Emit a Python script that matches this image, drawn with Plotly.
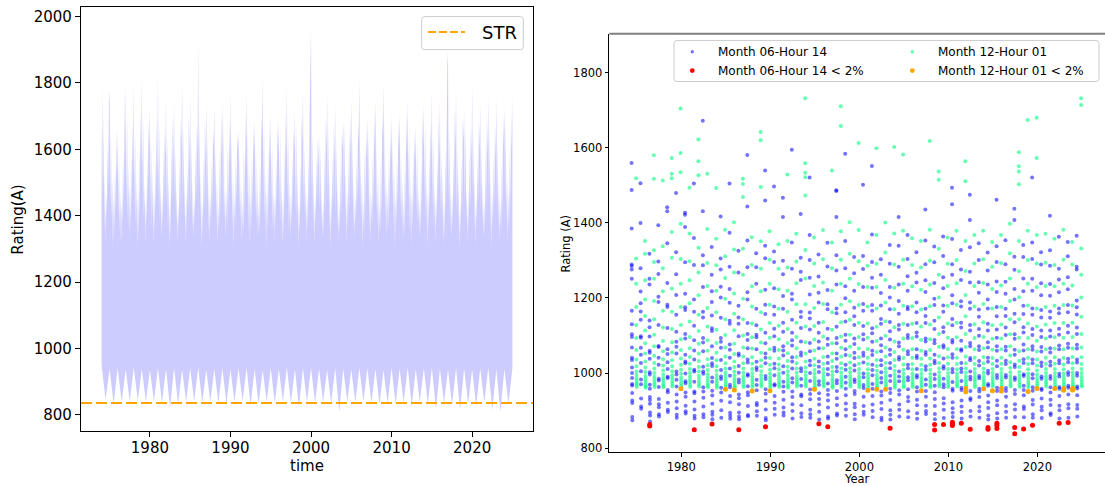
import plotly.graph_objects as go

W, H = 1105, 486

# ---------------- left panel: hourly rating (envelope per year) ----------------
ts_years = list(range(1974, 2025))
# upper envelope: monthly maxima (Jan..Dec) per year
ts_upper = [
    [1500, 1789, 1440, 1700, 1360, 1540, 1320, 1470, 1390, 1620, 1480, 1780],
    [1745, 1420, 1680, 1390, 1520, 1300, 1460, 1350, 1560, 1410, 1660, 1500],
    [1661, 1400, 1590, 1350, 1480, 1310, 1440, 1380, 1600, 1430, 1700, 1792],
    [1640, 1450, 1720, 1380, 1560, 1330, 1490, 1360, 1580, 1420, 1690, 1530],
    [1800, 1430, 1650, 1370, 1520, 1300, 1470, 1340, 1610, 1400, 1720, 1560],
    [1822, 1460, 1700, 1390, 1500, 1320, 1450, 1380, 1590, 1440, 1680, 1600],
    [1734, 1410, 1620, 1360, 1540, 1310, 1480, 1350, 1570, 1420, 1700, 1520],
    [1830, 1440, 1680, 1380, 1510, 1330, 1460, 1370, 1600, 1410, 1650, 1580],
    [1752, 1420, 1640, 1350, 1530, 1300, 1470, 1340, 1620, 1430, 1710, 1550],
    [1748, 1450, 1600, 1370, 1490, 1320, 1440, 1360, 1580, 1400, 1690, 1610],
    [1802, 1430, 1670, 1390, 1520, 1310, 1480, 1350, 1560, 1420, 1720, 1540],
    [1770, 1410, 1630, 1360, 1500, 1330, 1460, 1380, 1610, 1440, 1680, 1590],
    [1928, 1460, 1690, 1380, 1540, 1300, 1450, 1340, 1590, 1410, 1700, 1560],
    [1740, 1420, 1650, 1350, 1510, 1320, 1470, 1370, 1570, 1430, 1660, 1600],
    [1732, 1440, 1610, 1370, 1530, 1310, 1440, 1350, 1600, 1400, 1710, 1570],
    [1750, 1410, 1680, 1390, 1490, 1330, 1480, 1360, 1620, 1420, 1690, 1550],
    [1782, 1450, 1640, 1360, 1520, 1300, 1460, 1380, 1580, 1440, 1650, 1600],
    [1655, 1420, 1600, 1380, 1500, 1320, 1450, 1340, 1610, 1410, 1720, 1540],
    [1782, 1440, 1670, 1350, 1540, 1310, 1470, 1370, 1590, 1430, 1680, 1580],
    [1690, 1410, 1630, 1370, 1510, 1330, 1440, 1350, 1570, 1400, 1700, 1620],
    [1822, 1460, 1690, 1390, 1530, 1300, 1480, 1360, 1600, 1420, 1670, 1560],
    [1710, 1430, 1620, 1360, 1490, 1320, 1460, 1380, 1580, 1440, 1690, 1590],
    [1680, 1420, 1660, 1380, 1520, 1310, 1450, 1340, 1610, 1410, 1710, 1570],
    [1795, 1450, 1640, 1350, 1500, 1330, 1470, 1370, 1590, 1430, 1660, 1600],
    [1720, 1410, 1680, 1370, 1540, 1300, 1440, 1350, 1570, 1400, 1700, 1620],
    [1782, 1440, 1610, 1390, 1510, 1320, 1480, 1360, 1600, 1420, 1720, 1800],
    [1968, 1460, 1650, 1360, 1530, 1310, 1460, 1380, 1580, 1440, 1640, 1550],
    [1650, 1420, 1620, 1380, 1490, 1330, 1450, 1340, 1610, 1410, 1700, 1590],
    [1770, 1440, 1670, 1350, 1520, 1300, 1470, 1370, 1590, 1430, 1680, 1560],
    [1738, 1410, 1630, 1370, 1500, 1320, 1440, 1350, 1570, 1400, 1660, 1600],
    [1690, 1450, 1690, 1390, 1540, 1310, 1480, 1360, 1600, 1420, 1710, 1580],
    [1757, 1430, 1640, 1360, 1510, 1330, 1460, 1380, 1580, 1440, 1690, 1620],
    [1818, 1420, 1600, 1380, 1530, 1300, 1450, 1340, 1610, 1410, 1680, 1570],
    [1700, 1450, 1660, 1350, 1490, 1320, 1470, 1370, 1590, 1430, 1720, 1600],
    [1755, 1410, 1620, 1370, 1520, 1310, 1440, 1350, 1570, 1400, 1700, 1640],
    [1802, 1440, 1680, 1390, 1500, 1330, 1480, 1360, 1600, 1420, 1660, 1560],
    [1711, 1460, 1640, 1360, 1540, 1300, 1460, 1380, 1580, 1440, 1690, 1600],
    [1710, 1420, 1610, 1380, 1510, 1320, 1450, 1340, 1610, 1410, 1720, 1580],
    [1752, 1440, 1670, 1350, 1530, 1310, 1470, 1370, 1590, 1430, 1650, 1560],
    [1677, 1410, 1630, 1370, 1490, 1330, 1440, 1350, 1570, 1400, 1700, 1610],
    [1740, 1450, 1690, 1390, 1520, 1300, 1480, 1360, 1600, 1420, 1680, 1590],
    [1778, 1430, 1640, 1360, 1500, 1320, 1460, 1380, 1580, 1440, 1710, 1570],
    [1750, 1420, 1600, 1380, 1540, 1310, 1450, 1340, 1610, 1410, 1690, 1850],
    [1898, 1450, 1660, 1350, 1510, 1330, 1470, 1370, 1590, 1430, 1720, 1600],
    [1780, 1410, 1620, 1370, 1530, 1300, 1440, 1350, 1570, 1400, 1700, 1620],
    [1720, 1440, 1680, 1390, 1490, 1320, 1480, 1360, 1600, 1420, 1670, 1560],
    [1800, 1460, 1640, 1360, 1520, 1310, 1460, 1380, 1580, 1440, 1690, 1600],
    [1740, 1420, 1610, 1380, 1500, 1330, 1450, 1340, 1610, 1410, 1710, 1580],
    [1762, 1440, 1670, 1350, 1540, 1300, 1470, 1370, 1590, 1430, 1680, 1570],
    [1760, 1410, 1630, 1370, 1510, 1320, 1440, 1350, 1570, 1400, 1700, 1610],
    [1730, 1450, 1690, 1390, 1530, 1310, 1480, 1360, 1600, 1420, 1720, 1590],
]
ts_end_time = 2025.0
ts_end_upper = 1775
ts_end_lower = 940
# lower envelope: winter (January) and summer (July) minima per year
ts_lower_winter = [950, 938, 940, 936, 942, 938, 935, 940, 937, 941, 936, 939, 942, 935, 938,
                   940, 936, 939, 941, 937, 935, 940, 938, 942, 936, 939, 941, 937, 935, 940,
                   938, 936, 941, 939, 937, 935, 940, 938, 942, 936, 939, 941, 937, 935, 940,
                   938, 936, 939, 941, 937, 938]
ts_lower_summer = [845, 832, 838, 840, 842, 838, 840, 836, 822, 832, 838, 840, 836, 838, 835,
                   833, 838, 840, 828, 832, 838, 835, 840, 836, 823, 838, 836, 838, 835, 809,
                   838, 836, 840, 835, 830, 834, 832, 836, 826, 838, 832, 817, 836, 830, 815,
                   834, 825, 836, 814, 809, 832]
str_value = 835

# ---------------- right panel: June 14h and December 01h ratings ----------------
sc_years = list(range(1974, 2025))
jun_h14 = [
    [1560, 1488, 1385, 1289, 1285, 1276, 1251, 1166, 1130, 1103, 1096, 1068, 1041, 1035, 1015, 1000, 987, 971, 967, 947, 927, 920, 883, 874],
    [1506, 1400, 1279, 1217, 1186, 1164, 1142, 1098, 1094, 1067, 1049, 1027, 1005, 983, 970, 932, 911, 905],
    [1318, 1251, 1236, 1140, 1122, 1097, 1059, 1054, 1038, 1002, 996, 969, 958, 936, 928, 918, 895, 887, 871],
    [1394, 1297, 1264, 1203, 1189, 1128, 1072, 1069, 1041, 1022, 985, 980, 963, 931, 917, 909, 890, 884],
    [1442, 1431, 1346, 1240, 1182, 1176, 1120, 1063, 1051, 1029, 1011, 990, 987, 955, 949, 921, 902, 896],
    [1480, 1322, 1263, 1208, 1155, 1110, 1083, 1070, 1052, 1004, 996, 982, 964, 943, 924, 906, 889, 881],
    [1427, 1422, 1389, 1295, 1211, 1175, 1168, 1104, 1092, 1049, 1031, 1026, 999, 978, 973, 948, 937, 913, 898, 892],
    [1505, 1360, 1288, 1196, 1163, 1126, 1087, 1060, 1036, 1009, 1004, 977, 951, 946, 924, 903, 886, 879],
    [1672, 1431, 1314, 1287, 1229, 1163, 1148, 1093, 1081, 1058, 1017, 1004, 998, 962, 951, 934, 911, 890, 882],
    [1336, 1262, 1218, 1189, 1153, 1119, 1112, 1071, 1040, 1026, 1019, 988, 977, 953, 940, 918, 897, 889, 877],
    [1417, 1305, 1276, 1230, 1201, 1147, 1093, 1083, 1067, 1035, 1008, 991, 984, 961, 948, 926, 901, 881],
    [1505, 1374, 1283, 1224, 1187, 1139, 1131, 1076, 1062, 1041, 1012, 993, 969, 962, 939, 922, 894, 886, 878],
    [1326, 1268, 1179, 1148, 1131, 1098, 1052, 1047, 1019, 1001, 983, 975, 943, 933, 917, 895, 884, 877],
    [1581, 1444, 1353, 1282, 1215, 1196, 1133, 1104, 1088, 1066, 1036, 1028, 997, 993, 965, 949, 941, 912, 888, 885],
    [1319, 1282, 1238, 1171, 1127, 1102, 1095, 1063, 1030, 1015, 1008, 982, 968, 954, 920, 914, 898, 886],
    [1540, 1460, 1339, 1306, 1222, 1182, 1157, 1107, 1079, 1052, 1041, 1026, 992, 984, 957, 945, 926, 903, 880, 874],
    [1497, 1324, 1296, 1226, 1177, 1155, 1118, 1098, 1067, 1059, 1025, 1013, 994, 970, 967, 939, 921, 905, 889],
    [1467, 1416, 1299, 1263, 1205, 1171, 1134, 1110, 1071, 1060, 1047, 1018, 1001, 977, 964, 950, 929, 908, 895, 887],
    [1595, 1348, 1278, 1211, 1196, 1142, 1107, 1087, 1073, 1042, 1031, 1012, 986, 975, 951, 936, 917, 899, 879],
    [1424, 1307, 1270, 1248, 1163, 1149, 1120, 1084, 1055, 1047, 1013, 1005, 984, 966, 943, 938, 914, 893, 883],
    [1521, 1368, 1301, 1254, 1209, 1161, 1145, 1116, 1080, 1058, 1033, 1021, 1000, 979, 956, 944, 930, 902, 890, 881],
    [1316, 1257, 1214, 1188, 1134, 1107, 1084, 1066, 1031, 1017, 1003, 978, 969, 946, 931, 916, 897, 876],
    [1347, 1284, 1221, 1183, 1170, 1118, 1091, 1075, 1044, 1027, 1011, 996, 972, 955, 942, 927, 908, 884, 879],
    [1487, 1485, 1416, 1314, 1273, 1236, 1172, 1159, 1123, 1093, 1079, 1052, 1038, 1016, 1005, 981, 973, 952, 933, 915, 892, 887],
    [1584, 1352, 1279, 1231, 1199, 1162, 1137, 1102, 1086, 1063, 1048, 1022, 1009, 990, 974, 958, 941, 919, 903, 886],
    [1309, 1266, 1219, 1174, 1151, 1128, 1092, 1077, 1054, 1040, 1021, 1007, 983, 976, 952, 944, 918, 909, 890, 877],
    [1502, 1312, 1277, 1229, 1184, 1166, 1125, 1103, 1089, 1054, 1046, 1028, 999, 989, 968, 960, 937, 912, 897, 889],
    [1552, 1369, 1296, 1254, 1227, 1181, 1166, 1119, 1106, 1083, 1059, 1048, 1022, 1008, 994, 971, 958, 939, 916, 899, 882],
    [1303, 1262, 1213, 1180, 1144, 1131, 1092, 1074, 1058, 1034, 1021, 1002, 987, 975, 951, 940, 921, 904, 881, 874],
    [1341, 1291, 1229, 1201, 1170, 1136, 1111, 1089, 1062, 1049, 1027, 1013, 993, 979, 958, 947, 928, 901, 889, 876],
    [1416, 1339, 1283, 1236, 1192, 1158, 1128, 1116, 1081, 1071, 1043, 1036, 1004, 991, 978, 954, 943, 916, 902, 884],
    [1368, 1304, 1258, 1219, 1176, 1170, 1128, 1101, 1093, 1058, 1050, 1022, 1013, 989, 981, 957, 936, 925, 898, 882],
    [1322, 1267, 1241, 1188, 1162, 1133, 1108, 1097, 1063, 1046, 1040, 1011, 994, 988, 962, 951, 929, 914, 893, 878],
    [1436, 1353, 1290, 1247, 1216, 1171, 1152, 1133, 1092, 1084, 1056, 1049, 1018, 1009, 983, 969, 952, 937, 913, 899, 891],
    [1337, 1295, 1240, 1198, 1181, 1139, 1117, 1088, 1079, 1049, 1033, 1026, 996, 984, 966, 949, 931, 912, 891, 877],
    [1364, 1312, 1255, 1226, 1180, 1163, 1122, 1109, 1074, 1068, 1039, 1018, 1012, 985, 970, 962, 933, 919, 902, 880],
    [1494, 1450, 1357, 1290, 1262, 1207, 1186, 1144, 1127, 1088, 1081, 1050, 1041, 1011, 1002, 976, 958, 953, 922, 906, 894, 883],
    [1328, 1276, 1248, 1191, 1177, 1134, 1121, 1086, 1063, 1059, 1027, 1012, 1003, 979, 961, 955, 927, 911, 896, 879],
    [1475, 1408, 1335, 1270, 1241, 1188, 1171, 1128, 1113, 1080, 1071, 1040, 1034, 1004, 990, 983, 952, 933, 928, 899, 884],
    [1346, 1301, 1242, 1214, 1169, 1150, 1117, 1099, 1071, 1061, 1032, 1020, 992, 986, 958, 951, 936, 910, 898, 881],
    [1321, 1273, 1236, 1196, 1172, 1131, 1113, 1082, 1068, 1041, 1030, 1006, 999, 971, 966, 940, 922, 907, 887, 876],
    [1462, 1338, 1296, 1244, 1216, 1176, 1151, 1116, 1094, 1071, 1059, 1033, 1018, 995, 987, 961, 952, 927, 914, 893, 879],
    [1354, 1290, 1243, 1211, 1171, 1152, 1121, 1101, 1070, 1060, 1033, 1024, 995, 988, 960, 952, 937, 912, 897, 881],
    [1438, 1408, 1310, 1275, 1224, 1196, 1158, 1135, 1103, 1091, 1062, 1049, 1023, 1016, 988, 982, 955, 944, 917, 903, 883],
    [1341, 1309, 1252, 1218, 1179, 1157, 1122, 1108, 1076, 1060, 1037, 1027, 997, 992, 966, 955, 941, 911, 904, 882],
    [1521, 1348, 1304, 1251, 1219, 1172, 1155, 1117, 1101, 1071, 1062, 1036, 1026, 997, 986, 962, 953, 928, 916, 890, 881],
    [1322, 1289, 1239, 1207, 1168, 1148, 1113, 1096, 1069, 1057, 1028, 1019, 991, 985, 958, 955, 932, 910, 901, 880],
    [1419, 1327, 1286, 1237, 1206, 1164, 1147, 1113, 1097, 1066, 1055, 1030, 1020, 992, 985, 962, 948, 929, 915, 893, 888],
    [1363, 1278, 1249, 1215, 1172, 1159, 1118, 1102, 1073, 1063, 1034, 1026, 998, 991, 963, 958, 939, 913, 901, 879],
    [1349, 1311, 1255, 1223, 1181, 1162, 1126, 1108, 1078, 1067, 1038, 1029, 1002, 995, 966, 961, 943, 917, 906, 881],
    [1366, 1283, 1276, 1193, 1175, 1156, 1121, 1104, 1075, 1065, 1036, 1028, 1000, 993, 964, 959, 941, 915, 905, 884],
]
dec_h01 = [
    [1519, 1305, 1238, 1176, 1128, 1093, 1061, 1036, 1018, 1004, 995, 986, 979, 973, 968, 963],
    [1352, 1318, 1247, 1196, 1152, 1113, 1079, 1052, 1031, 1015, 1003, 992, 984, 977, 970, 965, 961],
    [1580, 1518, 1327, 1296, 1251, 1192, 1143, 1102, 1071, 1046, 1027, 1012, 1000, 990, 982, 975, 969, 963],
    [1513, 1338, 1279, 1218, 1166, 1121, 1085, 1058, 1037, 1020, 1007, 996, 987, 980, 973, 967, 962],
    [1573, 1531, 1519, 1376, 1307, 1225, 1163, 1117, 1082, 1055, 1034, 1018, 1005, 994, 986, 978, 971, 965],
    [1705, 1586, 1535, 1398, 1304, 1238, 1176, 1128, 1090, 1061, 1039, 1022, 1009, 998, 988, 980, 973, 966, 961],
    [1494, 1372, 1298, 1247, 1186, 1137, 1096, 1066, 1043, 1025, 1011, 1000, 991, 983, 976, 969, 963],
    [1622, 1564, 1527, 1334, 1268, 1207, 1155, 1112, 1078, 1052, 1032, 1016, 1004, 993, 985, 977, 970, 964],
    [1531, 1384, 1293, 1232, 1173, 1124, 1087, 1059, 1037, 1021, 1008, 997, 988, 980, 973, 967, 962],
    [1493, 1358, 1287, 1219, 1162, 1115, 1080, 1054, 1034, 1018, 1006, 995, 986, 979, 972, 966, 961],
    [1382, 1311, 1253, 1198, 1143, 1101, 1068, 1044, 1026, 1012, 1001, 992, 984, 977, 970, 964],
    [1402, 1329, 1268, 1212, 1158, 1114, 1078, 1051, 1031, 1016, 1004, 994, 985, 978, 971, 965, 961],
    [1518, 1504, 1469, 1331, 1262, 1198, 1143, 1100, 1068, 1044, 1026, 1012, 1001, 991, 983, 976, 969, 963],
    [1362, 1288, 1231, 1177, 1132, 1095, 1065, 1042, 1025, 1011, 1000, 991, 983, 976, 969, 963],
    [1642, 1620, 1496, 1351, 1278, 1218, 1162, 1116, 1081, 1054, 1034, 1018, 1005, 994, 985, 977, 970, 964],
    [1378, 1302, 1238, 1182, 1133, 1094, 1063, 1040, 1022, 1009, 998, 989, 981, 974, 968, 962],
    [1343, 1278, 1223, 1171, 1126, 1090, 1061, 1039, 1023, 1010, 999, 990, 982, 975, 969, 963],
    [1529, 1352, 1281, 1219, 1163, 1117, 1080, 1053, 1032, 1017, 1005, 995, 986, 978, 971, 965, 961],
    [1371, 1297, 1239, 1183, 1134, 1096, 1066, 1043, 1026, 1012, 1001, 991, 983, 976, 970, 964],
    [1732, 1559, 1534, 1522, 1473, 1328, 1252, 1183, 1124, 1082, 1052, 1031, 1015, 1003, 993, 984, 977, 970, 964],
    [1361, 1292, 1232, 1173, 1125, 1089, 1060, 1038, 1021, 1008, 998, 989, 981, 974, 968, 962],
    [1381, 1303, 1241, 1184, 1136, 1097, 1066, 1043, 1025, 1011, 1000, 991, 983, 976, 970, 964],
    [1540, 1348, 1279, 1219, 1162, 1115, 1079, 1052, 1032, 1016, 1004, 994, 985, 978, 971, 965, 961],
    [1711, 1658, 1378, 1302, 1238, 1182, 1135, 1097, 1067, 1044, 1026, 1012, 1001, 991, 983, 976, 969, 963],
    [1402, 1318, 1251, 1191, 1142, 1102, 1070, 1046, 1028, 1013, 1002, 992, 984, 977, 970, 964],
    [1613, 1381, 1298, 1237, 1181, 1134, 1096, 1065, 1042, 1025, 1011, 1000, 990, 982, 975, 968, 962],
    [1348, 1286, 1229, 1177, 1132, 1094, 1064, 1041, 1024, 1010, 999, 990, 982, 975, 968, 962],
    [1599, 1368, 1291, 1229, 1172, 1123, 1085, 1056, 1035, 1019, 1006, 995, 986, 979, 972, 966, 961],
    [1401, 1321, 1248, 1188, 1138, 1099, 1068, 1044, 1027, 1013, 1002, 992, 984, 977, 970, 964],
    [1602, 1372, 1289, 1227, 1170, 1122, 1084, 1056, 1035, 1019, 1006, 996, 987, 979, 972, 966, 961],
    [1582, 1379, 1302, 1238, 1179, 1131, 1092, 1062, 1040, 1023, 1009, 998, 989, 981, 974, 967, 962],
    [1359, 1288, 1231, 1178, 1131, 1093, 1063, 1041, 1024, 1010, 999, 990, 982, 975, 969, 963],
    [1352, 1281, 1222, 1169, 1124, 1088, 1059, 1038, 1022, 1009, 998, 989, 981, 974, 968, 963],
    [1618, 1382, 1299, 1236, 1178, 1129, 1090, 1061, 1039, 1022, 1009, 998, 989, 981, 974, 967, 962],
    [1537, 1515, 1331, 1262, 1201, 1148, 1104, 1070, 1045, 1027, 1013, 1002, 992, 984, 977, 970, 965],
    [1361, 1291, 1232, 1179, 1132, 1094, 1064, 1042, 1025, 1011, 1000, 991, 983, 976, 969, 963],
    [1379, 1301, 1239, 1182, 1134, 1095, 1064, 1041, 1024, 1010, 999, 990, 982, 975, 969, 964],
    [1564, 1511, 1352, 1272, 1208, 1151, 1104, 1069, 1044, 1026, 1012, 1001, 991, 983, 976, 969, 964],
    [1368, 1292, 1232, 1177, 1130, 1093, 1063, 1041, 1024, 1011, 1000, 991, 983, 976, 969, 963],
    [1379, 1303, 1240, 1184, 1135, 1096, 1066, 1043, 1026, 1012, 1001, 991, 983, 976, 970, 964],
    [1349, 1283, 1224, 1172, 1127, 1091, 1062, 1040, 1024, 1011, 1000, 991, 983, 976, 970, 964],
    [1368, 1293, 1233, 1176, 1129, 1092, 1063, 1041, 1025, 1011, 1000, 991, 983, 976, 969, 963],
    [1398, 1319, 1252, 1192, 1143, 1103, 1071, 1047, 1029, 1014, 1002, 992, 984, 977, 970, 964],
    [1588, 1551, 1537, 1503, 1352, 1271, 1202, 1143, 1094, 1058, 1033, 1016, 1003, 993, 984, 976, 969, 963],
    [1674, 1379, 1301, 1238, 1180, 1132, 1093, 1063, 1041, 1024, 1010, 999, 990, 982, 975, 968, 962],
    [1680, 1573, 1368, 1292, 1229, 1172, 1124, 1086, 1057, 1036, 1020, 1007, 996, 987, 979, 972, 966, 961],
    [1371, 1294, 1232, 1176, 1129, 1092, 1063, 1041, 1024, 1011, 1000, 991, 983, 976, 970, 964],
    [1358, 1288, 1231, 1179, 1133, 1095, 1065, 1042, 1025, 1011, 1000, 991, 983, 976, 969, 963],
    [1382, 1302, 1238, 1181, 1133, 1094, 1063, 1040, 1023, 1010, 999, 990, 982, 975, 969, 963],
    [1349, 1289, 1233, 1180, 1134, 1096, 1066, 1043, 1026, 1012, 1001, 992, 984, 977, 970, 964],
    [1732, 1714, 1332, 1262, 1201, 1150, 1104, 1068, 1042, 1024, 1011, 1000, 991, 983, 976, 969, 964],
]
jun_low_years = [1976, 1976, 1981, 1983, 1986, 1989, 1995, 1996, 2003, 2008, 2008, 2009, 2010, 2010,
                 2010, 2011, 2012, 2014, 2014, 2015, 2015, 2015, 2017, 2017, 2018, 2019, 2022, 2023]
jun_low_vals = [863, 859, 849, 864, 849, 857, 865, 857, 853, 863, 848, 863, 869, 864,
                860, 866, 850, 855, 850, 866, 860, 852, 855, 838, 851, 861, 866, 868]
dec_low_years = [1979, 1984, 1985, 1987, 1989, 1994, 2000, 2001, 2002, 2006, 2011, 2011, 2013,
                 2014, 2015, 2015, 2018, 2019, 2021, 2022, 2022, 2023, 2023]
dec_low_vals = [958, 957, 955, 952, 953, 957, 954, 957, 957, 953, 959, 950, 958,
                953, 959, 952, 951, 959, 959, 959, 954, 959, 955]

# ---------------- build traces ----------------
up_x, up_y = [], []
for yr, vals in zip(ts_years, ts_upper):
    for k, v in enumerate(vals):
        up_x.append(yr + k / len(vals))
        up_y.append(v)
up_x.append(ts_end_time)
up_y.append(ts_end_upper)
lo_x, lo_y = [], []
for yr, w, s in zip(ts_years, ts_lower_winter, ts_lower_summer):
    lo_x += [yr, yr + 0.5]
    lo_y += [w, s]
lo_x.append(ts_end_time)
lo_y.append(ts_end_lower)
poly_x = up_x + lo_x[::-1]
poly_y = up_y + lo_y[::-1]

fig = go.Figure()
fig.add_trace(go.Scatter(x=poly_x, y=poly_y, mode="lines", fill="toself",
                         fillcolor="rgba(0,0,255,0.2)", line=dict(width=0),
                         xaxis="x", yaxis="y", showlegend=False, hoverinfo="skip"))
x_left_range = [1971.45, 2027.55]
fig.add_trace(go.Scatter(x=x_left_range, y=[str_value, str_value], mode="lines",
                         line=dict(color="orange", width=2, dash="11px,4px"),
                         xaxis="x", yaxis="y", showlegend=False, name="STR"))


def column_points(years, columns, start_day, ndays):
    xs, ys = [], []
    for yr, col in zip(years, columns):
        n = len(col)
        for i, v in enumerate(col):
            xs.append(yr + (start_day + i * ndays / n) / 365.0)
            ys.append(v)
    return xs, ys


jx, jy = column_points(sc_years, jun_h14, 151, 30)
dx, dy = column_points(sc_years, dec_h01, 334, 31)
fig.add_trace(go.Scatter(x=jx, y=jy, mode="markers", name="Month 06-Hour 14",
                         marker=dict(color="rgba(0,0,255,0.55)", size=4, line=dict(width=0)),
                         xaxis="x2", yaxis="y2", showlegend=False))
fig.add_trace(go.Scatter(x=dx, y=dy, mode="markers", name="Month 12-Hour 01",
                         marker=dict(color="rgba(0,255,127,0.6)", size=4, line=dict(width=0)),
                         xaxis="x2", yaxis="y2", showlegend=False))
rx = [y + 166 / 365.0 for y in jun_low_years]
ox = [y + 349 / 365.0 for y in dec_low_years]
fig.add_trace(go.Scatter(x=rx, y=jun_low_vals, mode="markers", name="Month 06-Hour 14 < 2%",
                         marker=dict(color="red", size=5, line=dict(width=0)),
                         xaxis="x2", yaxis="y2", showlegend=False))
fig.add_trace(go.Scatter(x=ox, y=dec_low_vals, mode="markers", name="Month 12-Hour 01 < 2%",
                         marker=dict(color="orange", size=5, line=dict(width=0)),
                         xaxis="x2", yaxis="y2", showlegend=False))


# ---------------- helpers in pixel space ----------------
def px(x):
    return x / W


def py(y):
    return 1 - y / H


def rounded_box(x0, y0, x1, y1, r=3):
    rx, ry = r / W, r / H
    X0, X1 = px(x0), px(x1)
    Yt, Yb = py(y0), py(y1)
    p = (f"M {X0+rx},{Yt} L {X1-rx},{Yt} Q {X1},{Yt} {X1},{Yt-ry} "
         f"L {X1},{Yb+ry} Q {X1},{Yb} {X1-rx},{Yb} L {X0+rx},{Yb} "
         f"Q {X0},{Yb} {X0},{Yb+ry} L {X0},{Yt-ry} Q {X0},{Yt} {X0+rx},{Yt} Z")
    return dict(type="path", xref="paper", yref="paper", path=p,
                line=dict(color="#cccccc", width=1), fillcolor="rgba(255,255,255,0.8)",
                layer="above")


def dot(x, y, r, color):
    return dict(type="circle", xref="paper", yref="paper", xsizemode="pixel",
                ysizemode="pixel", xanchor=px(x), yanchor=py(y), x0=-r, x1=r, y0=-r, y1=r,
                fillcolor=color, line=dict(width=0), layer="above")


FONT = "DejaVu Sans"
shapes = []
annotations = []

# left legend
shapes.append(rounded_box(421.7, 16.7, 523.3, 50))
shapes.append(dict(type="line", xref="paper", yref="paper", x0=px(428), x1=px(465),
                   y0=py(32.3), y1=py(32.3), line=dict(color="orange", width=2, dash="8px,3px"),
                   layer="above"))
annotations.append(dict(x=px(480), y=py(32.5), xref="paper", yref="paper", text="STR",
                        showarrow=False, xanchor="left", yanchor="middle",
                        font=dict(family=FONT, size=18, color="black")))

# right legend
shapes.append(rounded_box(674, 40.7, 1099, 82))
shapes.append(dot(692.3, 52, 1.7, "rgba(0,0,255,0.55)"))
shapes.append(dot(692.3, 71, 2.4, "red"))
shapes.append(dot(912.3, 52, 1.7, "rgba(0,255,127,0.6)"))
shapes.append(dot(912.3, 71, 2.4, "orange"))
for x, y, t in [(716, 52, "Month 06-Hour 14"), (716, 71, "Month 06-Hour 14 < 2%"),
                (936, 52, "Month 12-Hour 01"), (936, 71, "Month 12-Hour 01 < 2%")]:
    annotations.append(dict(x=px(x), y=py(y), xref="paper", yref="paper", text=t,
                            showarrow=False, xanchor="left", yanchor="middle",
                            font=dict(family=FONT, size=12, color="black")))

# right panel top frame line (grey)
shapes.append(dict(type="line", xref="paper", yref="paper", x0=px(609.3), x1=1.0,
                   y0=py(34), y1=py(34), line=dict(color="#808080", width=2), layer="above"))

# axis titles
annotations += [
    dict(x=px(18), y=py(221), xref="paper", yref="paper", text="Rating(A)", textangle=-90,
         showarrow=False, xanchor="center", yanchor="middle",
         font=dict(family=FONT, size=15, color="black")),
    dict(x=px(307), y=py(469), xref="paper", yref="paper", text="time",
         showarrow=False, xanchor="center", yanchor="middle",
         font=dict(family=FONT, size=15, color="black")),
    dict(x=px(566), y=py(245), xref="paper", yref="paper", text="Rating (A)", textangle=-90,
         showarrow=False, xanchor="center", yanchor="middle",
         font=dict(family=FONT, size=11.5, color="black")),
    dict(x=px(857), y=py(481.5), xref="paper", yref="paper", text="Year",
         showarrow=False, xanchor="center", yanchor="middle",
         font=dict(family=FONT, size=11.5, color="black")),
]

axis_common = dict(showgrid=False, zeroline=False, showline=True, linecolor="black",
                   ticks="outside", tickcolor="black")

fig.update_layout(
    width=W, height=H, margin=dict(l=0, r=0, t=0, b=0),
    paper_bgcolor="white", plot_bgcolor="white", showlegend=False,
    xaxis=dict(domain=[px(81), px(533)], range=x_left_range, anchor="y",
               tickvals=[1980, 1990, 2000, 2010, 2020], mirror=True, linewidth=1.3,
               ticklen=5, tickwidth=1.2, ticklabelstandoff=-2,
               tickfont=dict(family=FONT, size=15, color="black"),
               **axis_common),
    yaxis=dict(domain=[py(434), py(7.3)], range=[750, 2028], anchor="x",
               tickvals=[800, 1000, 1200, 1400, 1600, 1800, 2000], mirror=True, linewidth=1.3,
               ticklen=5, tickwidth=1.2, tickfont=dict(family=FONT, size=15, color="black"),
               **axis_common),
    xaxis2=dict(domain=[px(609.3), 1.0], range=[1971.91, 2027.6], anchor="y2",
                tickvals=[1980, 1990, 2000, 2010, 2020], linewidth=1.3,
                ticklen=3.5, tickwidth=1, tickfont=dict(family=FONT, size=11.5, color="black"),
                **axis_common),
    yaxis2=dict(domain=[py(455), py(34)], range=[789, 1904], anchor="x2",
                tickvals=[800, 1000, 1200, 1400, 1600, 1800], linewidth=1.3,
                ticklen=3.5, tickwidth=1, tickfont=dict(family=FONT, size=11.5, color="black"),
                **axis_common),
    shapes=shapes, annotations=annotations,
)

fig.write_html("out.html")
